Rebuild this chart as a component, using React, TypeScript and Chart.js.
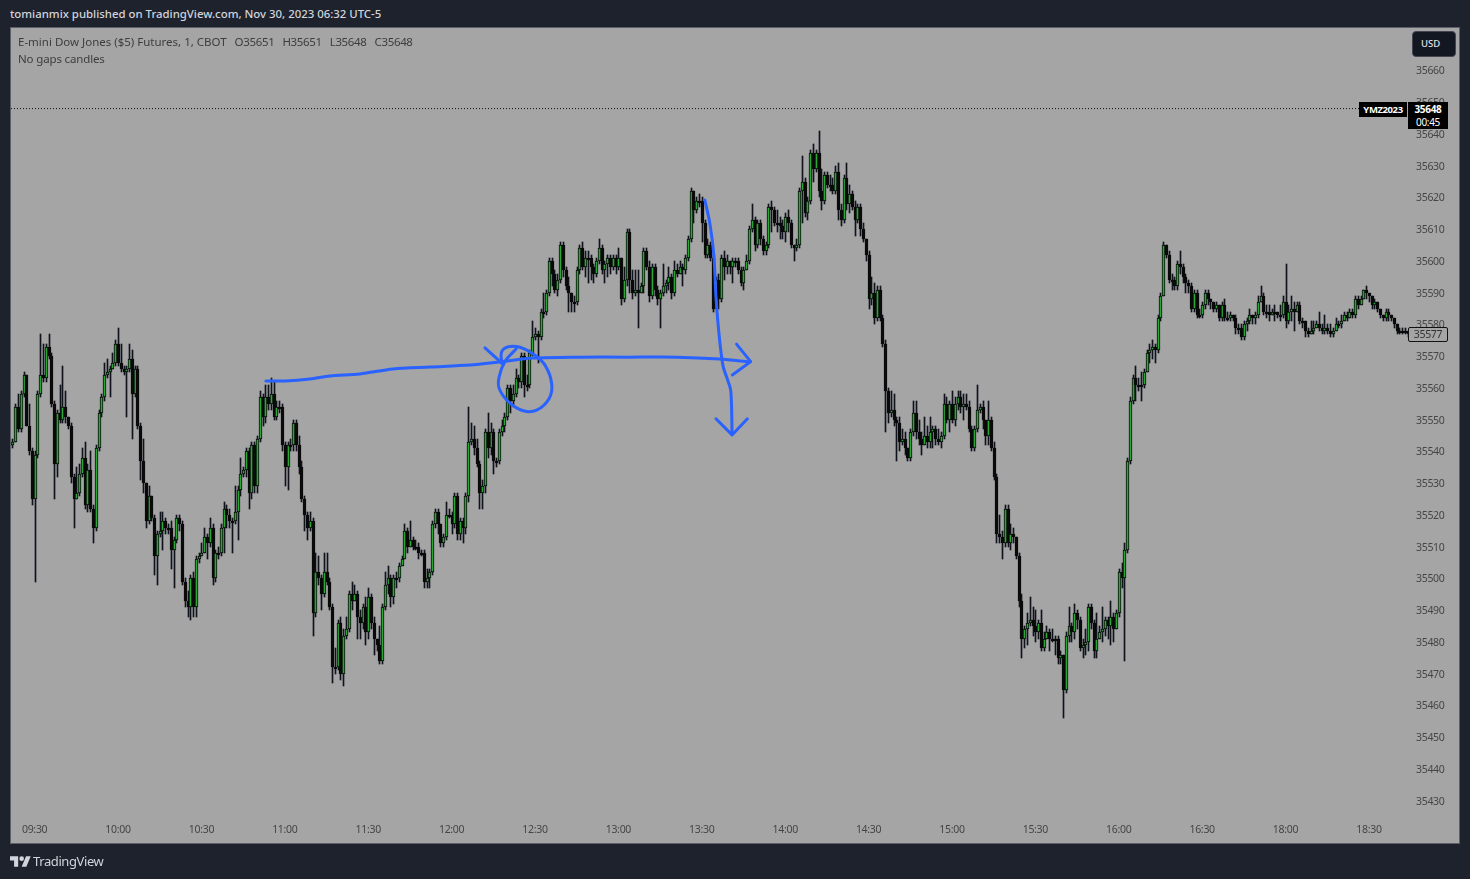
import React, { useEffect, useRef } from "react";
import { Chart, registerables } from "chart.js";

Chart.register(...registerables);

const firstOpen = 35542;

const closes = [
  35543,35554,35547,35558,35564,35548,35540,35525,35539,35558,
  35564,35563,35573,35570,35555,35536,35552,35550,35554,35551,
  35548,35532,35525,35527,35533,35538,35523,35534,35522,35516,
  35541,35552,35557,35564,35565,35566,35568,35574,35568,35566,
  35565,35566,35569,35558,35566,35548,35537,35530,35518,35526,
  35519,35507,35514,35515,35518,35516,35516,35509,35512,35519,
  35517,35499,35493,35491,35500,35491,35506,35507,35508,35513,
  35511,35516,35500,35508,35508,35516,35522,35520,35518,35518,
  35521,35528,35533,35534,35540,35527,35542,35529,35544,35557,
  35551,35557,35555,35558,35551,35554,35554,35542,35535,35542,
  35542,35549,35542,35535,35525,35520,35516,35518,35489,35502,
  35500,35495,35502,35499,35491,35472,35472,35486,35470,35482,
  35484,35495,35493,35495,35488,35486,35491,35483,35494,35486,
  35481,35479,35474,35491,35498,35500,35494,35500,35500,35504,
  35506,35515,35510,35512,35510,35510,35508,35508,35499,35500,
  35502,35517,35521,35517,35511,35513,35520,35520,35517,35526,
  35514,35518,35516,35526,35543,35544,35541,35536,35527,35529,
  35546,35541,35546,35537,35537,35546,35548,35551,35560,35556,
  35558,35563,35562,35570,35561,35561,35571,35576,35577,35576,
  35584,35584,35590,35600,35596,35591,35594,35605,35597,35592,
  35590,35587,35587,35597,35604,35598,35601,35601,35598,35596,
  35600,35604,35597,35599,35601,35598,35601,35598,35601,35588,
  35594,35609,35594,35590,35591,35590,35592,35603,35598,35589,
  35598,35591,35588,35590,35592,35593,35595,35590,35597,35596,
  35598,35597,35601,35607,35622,35616,35619,35619,35612,35602,
  35605,35601,35585,35594,35588,35601,35598,35600,35598,35600,
  35600,35597,35593,35597,35600,35610,35613,35605,35612,35607,
  35603,35605,35617,35616,35612,35612,35611,35609,35614,35612,
  35605,35604,35605,35622,35625,35615,35619,35634,35629,35634,
  35622,35619,35627,35624,35624,35622,35628,35616,35613,35626,
  35618,35621,35617,35613,35617,35610,35607,35602,35588,35590,
  35582,35591,35582,35574,35559,35552,35553,35550,35549,35543,
  35544,35541,35538,35546,35552,35546,35544,35542,35545,35543,
  35546,35547,35544,35543,35545,35555,35550,35555,35550,35555,
  35557,35554,35555,35554,35547,35541,35547,35553,35554,35550,
  35545,35550,35541,35532,35514,35513,35511,35522,35511,35514,
  35513,35507,35493,35481,35484,35486,35487,35485,35483,35486,
  35478,35481,35483,35481,35481,35481,35475,35476,35465,35482,
  35485,35483,35489,35487,35478,35479,35480,35491,35486,35477,
  35481,35483,35484,35487,35485,35488,35484,35489,35502,35500,
  35509,35537,35556,35563,35561,35561,35561,35565,35571,35572,
  35573,35572,35582,35589,35605,35602,35594,35594,35592,35599,
  35598,35595,35593,35592,35585,35590,35583,35583,35586,35590,
  35588,35587,35585,35586,35582,35586,35582,35582,35583,35582,
  35579,35579,35576,35580,35581,35583,35582,35583,35587,35589,
  35584,35584,35583,35584,35584,35583,35583,35587,35581,35584,
  35585,35584,35586,35581,35581,35578,35577,35578,35579,35580,
  35579,35578,35579,35578,35577,35578,35580,35580,35581,35583,
  35582,35584,35583,35588,35586,35588,35591,35590,35589,35586,
  35587,35585,35583,35582,35584,35583,35582,35580,35578,35578,
  35578,35578,35577,
];

const highs = [
  35544,35555,35558,35559,35565,35564,35555,35541,35540,35559,
  35577,35574,35574,35577,35571,35556,35553,35561,35567,35559,
  35551,35549,35533,35535,35536,35541,35543,35536,35540,35523,
  35542,35553,35558,35568,35569,35567,35571,35575,35579,35574,
  35567,35567,35574,35572,35567,35567,35549,35544,35530,35529,
  35526,35520,35515,35521,35521,35519,35517,35518,35513,35520,
  35520,35518,35500,35496,35501,35502,35507,35508,35511,35516,
  35514,35519,35517,35509,35510,35517,35524,35523,35522,35519,
  35529,35529,35538,35535,35541,35541,35543,35543,35545,35559,
  35558,35561,35561,35563,35562,35556,35556,35555,35543,35543,
  35544,35550,35550,35545,35537,35526,35521,35521,35519,35508,
  35507,35501,35508,35508,35500,35492,35478,35487,35488,35484,
  35488,35496,35499,35498,35496,35490,35492,35494,35497,35495,
  35488,35481,35485,35492,35502,35504,35501,35501,35502,35505,
  35507,35517,35516,35518,35513,35512,35511,35509,35509,35503,
  35503,35518,35522,35522,35517,35514,35524,35522,35521,35527,
  35527,35519,35519,35527,35554,35549,35548,35544,35537,35531,
  35547,35552,35549,35547,35538,35547,35550,35552,35561,35561,
  35561,35566,35564,35571,35571,35564,35572,35581,35579,35578,
  35585,35590,35591,35601,35601,35597,35596,35606,35606,35598,
  35595,35590,35589,35598,35605,35606,35603,35603,35602,35599,
  35601,35607,35605,35600,35602,35602,35602,35602,35604,35601,
  35598,35610,35610,35597,35597,35597,35593,35604,35604,35600,
  35599,35599,35592,35591,35599,35594,35598,35596,35600,35599,
  35600,35599,35602,35608,35623,35618,35620,35621,35620,35613,
  35607,35606,35602,35595,35596,35602,35603,35602,35600,35601,
  35601,35601,35598,35598,35602,35611,35618,35614,35613,35613,
  35608,35606,35618,35619,35617,35616,35614,35613,35615,35616,
  35613,35605,35607,35623,35633,35626,35620,35635,35637,35635,
  35641,35629,35628,35628,35627,35626,35630,35631,35618,35627,
  35631,35624,35622,35619,35618,35618,35612,35604,35603,35595,
  35593,35592,35592,35583,35575,35560,35559,35558,35551,35551,
  35547,35546,35540,35547,35556,35556,35550,35546,35551,35548,
  35551,35548,35548,35547,35546,35558,35557,35556,35559,35557,
  35559,35559,35558,35558,35556,35548,35548,35561,35555,35556,
  35547,35556,35551,35543,35533,35520,35515,35523,35523,35517,
  35516,35508,35508,35495,35485,35489,35494,35491,35490,35487,
  35490,35483,35485,35484,35484,35482,35482,35477,35476,35483,
  35491,35486,35492,35490,35488,35481,35484,35492,35492,35487,
  35489,35485,35491,35488,35488,35493,35489,35490,35503,35505,
  35511,35538,35557,35564,35567,35563,35565,35566,35572,35574,
  35575,35574,35583,35590,35606,35604,35603,35596,35595,35600,
  35603,35599,35596,35594,35593,35591,35591,35585,35587,35591,
  35591,35588,35587,35587,35586,35587,35588,35584,35584,35583,
  35583,35580,35580,35581,35582,35585,35583,35584,35589,35592,
  35590,35586,35586,35585,35586,35584,35586,35589,35599,35586,
  35589,35587,35587,35587,35582,35580,35579,35581,35581,35581,
  35584,35580,35583,35580,35580,35579,35582,35581,35583,35584,
  35584,35585,35585,35589,35589,35589,35591,35592,35590,35588,
  35588,35586,35584,35583,35585,35585,35583,35582,35580,35579,
  35579,35579,35578,
];

const lows = [
  35541,35543,35546,35546,35557,35548,35539,35523,35499,35538,
  35557,35562,35562,35569,35554,35525,35532,35549,35549,35549,
  35547,35530,35516,35525,35526,35532,35522,35521,35521,35511,
  35515,35540,35551,35556,35563,35557,35566,35567,35567,35565,
  35564,35551,35565,35544,35557,35547,35531,35527,35516,35517,
  35518,35501,35498,35513,35509,35514,35514,35503,35497,35511,
  35515,35498,35491,35488,35487,35488,35488,35505,35507,35508,
  35506,35510,35498,35499,35506,35507,35508,35516,35516,35508,
  35517,35512,35526,35532,35532,35522,35525,35527,35527,35543,
  35548,35549,35553,35553,35550,35550,35552,35540,35529,35528,
  35540,35540,35540,35533,35524,35515,35512,35515,35482,35488,
  35498,35490,35494,35498,35490,35467,35470,35471,35468,35466,
  35481,35483,35490,35493,35481,35481,35484,35479,35481,35484,
  35476,35477,35473,35473,35490,35495,35491,35492,35497,35499,
  35504,35506,35508,35510,35509,35509,35506,35507,35497,35497,
  35497,35501,35516,35514,35510,35510,35512,35519,35514,35516,
  35512,35512,35511,35514,35524,35542,35539,35535,35522,35522,
  35527,35538,35539,35533,35535,35536,35545,35546,35550,35552,
  35554,35557,35560,35560,35557,35559,35560,35570,35575,35568,
  35575,35582,35583,35589,35592,35590,35589,35593,35595,35591,
  35584,35584,35584,35586,35596,35597,35595,35593,35594,35593,
  35595,35599,35596,35593,35595,35596,35597,35596,35597,35586,
  35587,35592,35590,35588,35589,35579,35590,35590,35597,35587,
  35588,35589,35586,35579,35589,35590,35591,35588,35589,35595,
  35596,35592,35596,35600,35606,35612,35615,35617,35606,35601,
  35601,35600,35584,35585,35585,35587,35594,35596,35596,35593,
  35598,35596,35592,35591,35598,35599,35609,35603,35604,35605,
  35602,35602,35604,35609,35611,35609,35607,35607,35606,35609,
  35604,35600,35603,35604,35612,35614,35613,35618,35625,35628,
  35620,35616,35618,35623,35622,35621,35621,35613,35611,35612,
  35616,35615,35616,35608,35612,35608,35606,35600,35585,35586,
  35580,35581,35581,35573,35546,35549,35551,35548,35537,35540,
  35542,35539,35537,35537,35545,35544,35542,35539,35542,35541,
  35541,35541,35542,35542,35541,35544,35549,35546,35549,35548,
  35553,35552,35550,35553,35546,35540,35540,35546,35552,35547,
  35542,35542,35540,35531,35511,35511,35506,35510,35510,35509,
  35511,35506,35491,35475,35478,35479,35485,35482,35480,35481,
  35477,35477,35481,35477,35480,35476,35473,35473,35456,35464,
  35480,35480,35481,35484,35477,35475,35476,35477,35484,35475,
  35475,35481,35480,35482,35481,35479,35480,35484,35488,35497,
  35474,35508,35536,35555,35556,35559,35556,35560,35565,35568,
  35569,35568,35571,35581,35589,35601,35593,35591,35591,35591,
  35596,35593,35590,35590,35584,35584,35582,35582,35582,35585,
  35586,35585,35584,35584,35581,35581,35581,35581,35581,35581,
  35577,35577,35575,35575,35578,35580,35580,35580,35582,35587,
  35583,35582,35581,35583,35581,35582,35581,35582,35579,35580,
  35581,35578,35584,35580,35579,35576,35576,35577,35577,35579,
  35578,35577,35577,35577,35576,35576,35578,35579,35579,35582,
  35581,35582,35582,35582,35585,35586,35588,35588,35587,35585,
  35585,35584,35582,35581,35581,35581,35581,35579,35577,35577,
  35577,35577,35576,
];

const barSlots = 504;
const timeTickBars = [8, 38, 68, 98, 128, 158, 188, 218, 248, 278, 308, 338, 368, 398, 428, 458, 488];
const timeTickLabels = ["09:30","10:00","10:30","11:00","11:30","12:00","12:30","13:00","13:30","14:00","14:30","15:00","15:30","16:00","16:30","18:00","18:30"];
const priceTicks = [35430,35440,35450,35460,35470,35480,35490,35500,35510,35520,35530,35540,35550,35560,35570,35580,35590,35600,35610,35620,35630,35640,35650,35660];
const lastLinePrice = 35648;
const lastLineEndBar = 485;

// hand-drawn annotations, as [bar, price]
const strokeLong = [[91.2,35562.2],[98.1,35562.2],[107,35562.8],[114.2,35563.75],[125,35564.4],[136.9,35566],[150.2,35566.6],[164.6,35567.2],[175.4,35568.2],[187.3,35569.4],[204.2,35569.7],[221.1,35569.7],[239.1,35569.7],[254.5,35569.1],[265.3,35568.2]];
const headOne = [[170,35572.6],[176.1,35567.8]];
const strokeCircle = [[176,35567.8],[176,35571.4],[178.4,35573],[182.6,35572.8],[187.4,35570.7],[191.6,35567.2],[194,35561.4],[193.1,35556.7],[188.6,35553],[183.8,35552.8],[178.4,35555.7],[175.1,35559.9],[175.1,35563.5],[177.2,35568.3],[181.2,35572.3]];
const headTwo = [[260.5,35573.8],[265.6,35568.3],[259,35564.1]];
const strokeDown = [[249.1,35619.2],[250.9,35611.9],[252.4,35601.3],[253.1,35588.7],[254.3,35576.1],[255.7,35566.7],[258.4,35559.3],[258.9,35545.7]];
const headThree = [[253.1,35550.3],[258.9,35545.2],[264.4,35550.3]];

const FONT = '"Noto Sans", sans-serif';
const BLUE = "#2962ff";
const PAGE = "#1e222d";
const PANE = "#a5a5a5";
const AXIS_TEXT = "#454545";

const snapPlugin = {
  id: "snapBars",
  afterDatasetsUpdate(chart: any) {
    chart.data.datasets.forEach((ds: any, k: number) => {
      if (ds.type !== "bar") return;
      chart.getDatasetMeta(k).data.forEach((el: any) => {
        el.x = Math.round(el.x) + 0.5;
        el.y = Math.round(el.y);
        el.base = Math.round(el.base);
        if (Math.abs(el.base - el.y) < 2) el.base = el.y + 2;
      });
    });
  },
  beforeDraw(chart: any) {
    chart.ctx.letterSpacing = "-0.3px";
  },
};

const stroke = (pts: number[][], tension: number) => ({
  type: "line",
  xAxisID: "xDraw",
  yAxisID: "y",
  data: pts.map(([x, y]) => ({ x, y })),
  borderColor: BLUE,
  borderWidth: 3,
  borderCapStyle: "round",
  borderJoinStyle: "round",
  pointRadius: 0,
  tension,
  order: 0,
});

function Tag(props: { x: number; y: number; w: number; h: number; bg: string; children?: any; extra?: any }) {
  return (
    <div
      style={{
        position: "absolute",
        left: props.x,
        top: props.y,
        width: props.w,
        height: props.h,
        background: props.bg,
        ...props.extra,
      }}
    >
      {props.children}
    </div>
  );
}

export default function App() {
  const ref = useRef<HTMLCanvasElement>(null);
  useEffect(() => {
    const opens = [firstOpen, ...closes.slice(0, -1)];
    const categories = Array.from({ length: barSlots }, () => "");
    timeTickBars.forEach((b, i) => (categories[b] = timeTickLabels[i]));
    const chart = new Chart(ref.current as HTMLCanvasElement, {
      type: "bar",
      plugins: [snapPlugin],
      data: {
        labels: categories,
        datasets: [
          {
            type: "bar",
            data: closes.map((c, i) => [
              Math.min(lows[i], c, opens[i]),
              Math.max(highs[i], c, opens[i]),
            ]),
            backgroundColor: "#10131c",
            barThickness: 1,
            grouped: false,
            order: 3,
          },
          {
            type: "bar",
            data: closes.map((c, i) => [opens[i], c]),
            backgroundColor: closes.map((c, i) => (c > opens[i] ? "#2aa835" : "#0a0a0a")),
            borderColor: "#0a0a0a",
            borderWidth: 1,
            borderSkipped: false,
            barThickness: 3,
            grouped: false,
            order: 2,
          },
          {
            type: "line",
            xAxisID: "xDraw",
            yAxisID: "y",
            data: [
              { x: -0.5, y: lastLinePrice },
              { x: lastLineEndBar, y: lastLinePrice },
            ],
            borderColor: "#111111",
            borderWidth: 1,
            borderDash: [1, 2],
            pointRadius: 0,
            order: 1,
          },
          stroke(strokeLong, 0.3),
          stroke(headOne, 0),
          stroke(strokeCircle, 0.35),
          stroke(headTwo, 0),
          stroke(strokeDown, 0.2),
          stroke(headThree, 0),
        ] as any,
      },
      options: {
        responsive: false,
        animation: false,
        devicePixelRatio: 1,
        layout: { padding: { left: 11, top: 27, right: 11, bottom: 36 } },
        plugins: { legend: { display: false }, tooltip: { enabled: false } },
        events: [],
        scales: {
          x: {
            type: "category",
            offset: true,
            grid: { display: false, drawTicks: false },
            border: { display: false },
            afterBuildTicks: (s: any) => {
              s.ticks = timeTickBars.map((v) => ({ value: v }));
            },
            afterFit: (s: any) => {
              s.height = 23;
            },
            ticks: {
              autoSkip: false,
              maxRotation: 0,
              padding: 4,
              color: AXIS_TEXT,
              font: { family: FONT, size: 10.5 },
              callback: (_v: any, i: number) => timeTickLabels[i],
            },
          },
          xDraw: { type: "linear", display: false, offset: false, min: -0.5, max: barSlots - 0.5 },
          y: {
            type: "linear",
            position: "right",
            min: 35423.9,
            max: 35673.7,
            grid: { display: false, drawTicks: false },
            border: { display: false },
            afterBuildTicks: (s: any) => {
              s.ticks = priceTicks.map((v) => ({ value: v }));
            },
            afterFit: (s: any) => {
              s.width = 47;
            },
            ticks: {
              padding: 4,
              labelOffset: 1,
              color: AXIS_TEXT,
              font: { family: FONT, size: 10.5 },
              callback: (v: any) => String(v),
            },
          },
        },
      } as any,
    });
    return () => chart.destroy();
  }, []);

  const white = { color: "#fff", fontFamily: FONT, fontSize: 10, fontWeight: 700, lineHeight: "15px", textAlign: "center" as const, letterSpacing: "-0.3px" };
  const legend = { position: "absolute" as const, left: 18, color: "#3d3d3d", fontFamily: FONT, fontSize: 11.5, lineHeight: "16px", whiteSpace: "pre" as const };

  return (
    <div style={{ position: "absolute", left: 0, top: 0, width: 1470, height: 879, background: PAGE, overflow: "hidden" }}>
      <div style={{ position: "absolute", left: 10, top: 6, color: "#d1d4dc", fontFamily: FONT, fontSize: 11.4, fontWeight: 500, lineHeight: "16px", whiteSpace: "pre" }}>
        tomianmix published on TradingView.com, Nov 30, 2023 06:32 UTC-5
      </div>
      <div style={{ position: "absolute", left: 10, top: 27, width: 1448, height: 815, background: PANE, border: "1px solid #5d606b" }} />
      <canvas ref={ref} width={1470} height={879} style={{ position: "absolute", left: 0, top: 0, width: 1470, height: 879 }} />
      <div style={{ ...legend, top: 34 }}>
        E-mini Dow Jones ($5) Futures, 1, CBOT<span style={{ marginLeft: 8, letterSpacing: "-0.35px" }}>O35651</span>
        <span style={{ marginLeft: 8, letterSpacing: "-0.35px" }}>H35651</span>
        <span style={{ marginLeft: 8, letterSpacing: "-0.35px" }}>L35648</span>
        <span style={{ marginLeft: 8, letterSpacing: "-0.35px" }}>C35648</span>
      </div>
      <div style={{ ...legend, top: 51, letterSpacing: "-0.15px" }}>No gaps candles</div>
      <Tag x={1412} y={31} w={44} h={26} bg="#131722" extra={{ border: "1px solid #434651", borderRadius: 4, boxSizing: "border-box", color: "#e0e3eb", fontFamily: FONT, fontSize: 9.5, fontWeight: 500, lineHeight: "24px", paddingLeft: 8 }}>
        USD
      </Tag>
      <Tag x={1359} y={102} w={48} h={15} bg="#000" extra={{ ...white, fontSize: 9.5, letterSpacing: "-0.4px" }}>YMZ2023</Tag>
      <Tag x={1408} y={102} w={40} h={27} bg="#000" extra={white}>
        <div>35648</div>
        <div style={{ fontWeight: 400, lineHeight: "10px" }}>00:45</div>
      </Tag>
      <Tag x={1408} y={327} w={40} h={15} bg={PANE} extra={{ border: "1px solid #111", borderRadius: 2, boxSizing: "border-box", color: "#333", fontFamily: FONT, fontSize: 10.5, lineHeight: "13px", textAlign: "center", letterSpacing: "-0.3px" }}>
        35577
      </Tag>
      <svg style={{ position: "absolute", left: 10, top: 855 }} width="21" height="12" viewBox="0 0 36 20">
        <path fill="#d1d4dc" d="M14 20H7V9H0V2h14v18zM28 20h-8l7.5-18h8L28 20z" />
        <circle fill="#d1d4dc" cx="20" cy="6" r="4" />
      </svg>
      <div style={{ position: "absolute", left: 33, top: 852, color: "#d1d4dc", fontFamily: FONT, fontSize: 13, lineHeight: "18px", letterSpacing: "-0.4px" }}>TradingView</div>
    </div>
  );
}
